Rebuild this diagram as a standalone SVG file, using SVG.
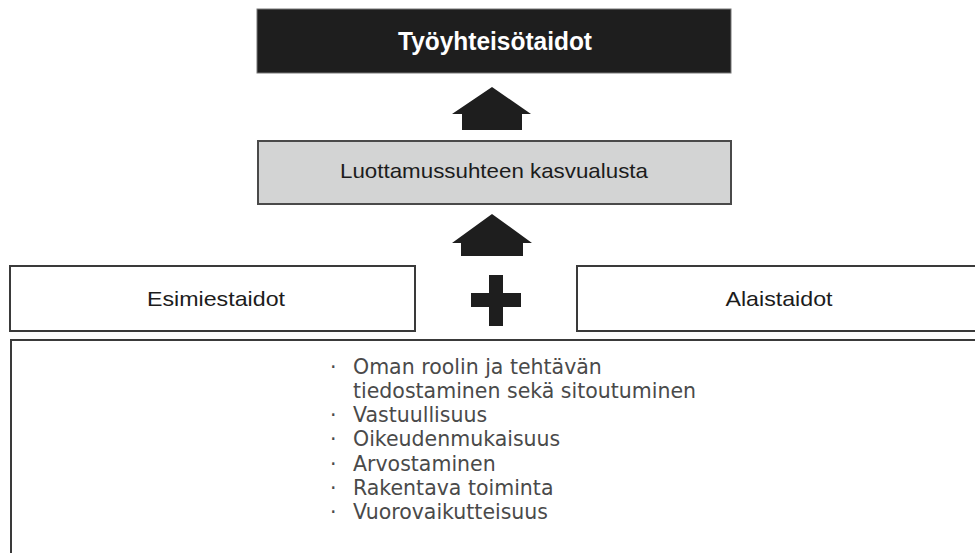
<svg xmlns="http://www.w3.org/2000/svg" width="975" height="553" viewBox="0 0 975 553">
<style>
.lbl{font-family:"Liberation Sans Narrow","Liberation Sans",Arial,sans-serif;font-size:21px;fill:#1c1c1c;text-anchor:middle}
.top{font-family:"Liberation Sans",Arial,sans-serif;font-size:25px;font-weight:bold;fill:#fff;text-anchor:middle}
.bul{font-family:"DejaVu Sans","Liberation Sans",sans-serif;font-size:20.5px;fill:#4a4a4a}
.box{fill:#fff;stroke:#3a3a3a;stroke-width:2}
.arr{fill:#1e1e1e}
</style>
<rect width="975" height="553" fill="#fff"/>
<g id="tyoyhteisotaidot">
<rect x="257" y="9" width="474" height="64" fill="#1e1e1e" stroke="#777" stroke-width="1"/>
<text class="top" x="495" y="50" textLength="194" lengthAdjust="spacingAndGlyphs">Työyhteisötaidot</text>
</g>
<g id="luottamus">
<rect x="258" y="141" width="473" height="63" fill="#d3d4d4" stroke="#4a4a4a" stroke-width="2"/>
<text class="lbl" x="494" y="178" textLength="308" lengthAdjust="spacingAndGlyphs">Luottamussuhteen kasvualusta</text>
</g>
<g id="connectors">
<polygon class="arr" points="492,87 531,114 522,114 522,130 462,130 462,114 452,114"/>
<polygon class="arr" points="492,214 532,243 523,243 523,256 461,256 461,243 452,243"/>
<g id="plus"><rect x="489" y="275" width="14" height="51" class="arr"/><rect x="471" y="293" width="50" height="14" class="arr"/></g>
</g>
<g id="esimiestaidot">
<rect x="10" y="266" width="405" height="65" class="box"/>
<text class="lbl" x="216" y="306" textLength="138" lengthAdjust="spacingAndGlyphs">Esimiestaidot</text>
</g>
<g id="alaistaidot">
<rect x="577" y="266" width="410" height="65" class="box"/>
<text class="lbl" x="779" y="306" textLength="107" lengthAdjust="spacingAndGlyphs">Alaistaidot</text>
</g>
<g id="taidot">
<rect x="11" y="340" width="980" height="230" class="box"/>
<g class="bul">
<text x="330" y="374">·</text><text x="353" y="374">Oman roolin ja tehtävän</text>
<text x="353" y="398">tiedostaminen sekä sitoutuminen</text>
<text x="330" y="422">·</text><text x="353" y="422">Vastuullisuus</text>
<text x="330" y="446">·</text><text x="353" y="446">Oikeudenmukaisuus</text>
<text x="330" y="471">·</text><text x="353" y="471">Arvostaminen</text>
<text x="330" y="495">·</text><text x="353" y="495">Rakentava toiminta</text>
<text x="330" y="519">·</text><text x="353" y="519">Vuorovaikutteisuus</text>
</g>
</g>
</svg>
